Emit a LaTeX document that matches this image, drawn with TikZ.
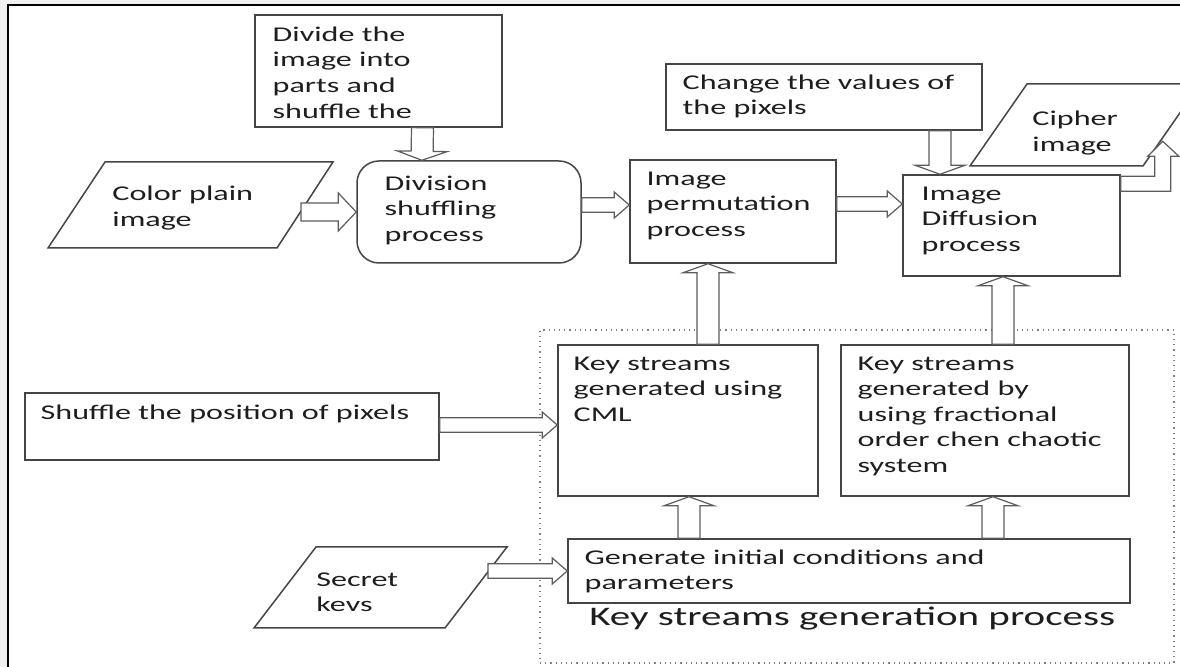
\documentclass[tikz,border=0pt]{standalone}
\usepackage{fontspec}
\setmainfont{Carlito}[FakeStretch=1.53]
\usetikzlibrary{calc}
\definecolor{boxgray}{HTML}{454545}
\definecolor{arrowgray}{HTML}{5C5C5C}
\definecolor{inkgray}{HTML}{1E1E1E}

\tikzset{
  procbox/.style={draw=boxgray, line width=0.75pt, rectangle, inner sep=0pt},
  slantline/.style={draw=boxgray, line width=0.75pt, fill=white, line join=miter},
  txt/.style={anchor=north west, align=left, inner sep=0pt, text=inkgray,
    font=\fontsize{10.5pt}{12.8pt}\selectfont},
  bigtxt/.style={align=left, inner sep=0pt, text=inkgray,
    font=\fontsize{13.4pt}{16pt}\selectfont},
  blkarrow/.style={draw=arrowgray, fill=white, line width=0.6pt, line join=miter,
    to path={
      ($(\tikztostart)!\shaftw!90:(\tikztotarget)$)
      -- ($($(\tikztotarget)!\headl!(\tikztostart)$)!\shaftw!90:(\tikztotarget)$)
      -- ($($(\tikztotarget)!\headl!(\tikztostart)$)!\headw!90:(\tikztotarget)$)
      -- (\tikztotarget)
      -- ($($(\tikztotarget)!\headl!(\tikztostart)$)!\headw!-90:(\tikztotarget)$)
      -- ($($(\tikztotarget)!\headl!(\tikztostart)$)!\shaftw!-90:(\tikztotarget)$)
      -- ($(\tikztostart)!\shaftw!-90:(\tikztotarget)$)
      -- cycle}},
  harrow/.style={blkarrow, /utils/exec={\def\shaftw{3.6pt}\def\headw{6.5pt}\def\headl{7.5pt}}},
  bigharrow/.style={blkarrow, /utils/exec={\def\shaftw{4.5pt}\def\headw{9.5pt}\def\headl{9pt}}},
  varrow/.style={blkarrow, /utils/exec={\def\shaftw{5.5pt}\def\headw{12.5pt}\def\headl{4.5pt}}}
}

\begin{document}
\begin{tikzpicture}[x=0.5pt, y=-0.5pt]
  \useasboundingbox (0,0) rectangle (1180,667);
  \clip (0,0) rectangle (1180,667);
  \fill[gray!12] (0,0) rectangle (1180,667);
  \draw[line width=1.4pt, fill=white] (8,5) rectangle (1200,690);

  % top row
  \node[procbox, minimum width=123.5pt, minimum height=56pt,
    label={[txt, xshift=9pt, yshift=-6pt]north west:{Divide the\\image into\\parts and\\shuffle the}}]
    (divide) at (378.5,71) {};
  \draw[slantline] (48,248) -- (105,162) -- (333,162) -- (277,248) -- cycle;
  \node[txt] (plain) at (112,186) {Color plain\\image};
  \coordinate (plain-out) at (301,212);
  \node[procbox, rounded corners=11pt, minimum width=112pt, minimum height=51pt,
    label={[txt, xshift=14pt, yshift=-7.5pt]north west:{Division\\shuffling\\process}}]
    (division) at (469,212) {};
  \node[procbox, minimum width=103pt, minimum height=51.5pt,
    label={[txt, xshift=8.5pt, yshift=-6pt]north west:{Image\\permutation\\process}}]
    (perm) at (733,211.5) {};
  \node[procbox, minimum width=158pt, minimum height=33pt,
    label={[txt, xshift=8.5pt, yshift=-5.5pt]north west:{Change the values of\\the pixels}}]
    (change) at (824,97) {};
  \node[procbox, minimum width=108.5pt, minimum height=50.5pt,
    label={[txt, xshift=9.5pt, yshift=-6pt]north west:{Image\\Diffusion\\process}}]
    (diffusion) at (1011.5,225.5) {};
  \draw[slantline] (970,166) -- (1027,84) -- (1200,84) -- (1143,166) -- cycle;
  \node[txt] (cipher) at (1032,111) {Cipher\\image};

  % key streams generation
  \node[draw=gray, dotted, line width=0.6pt, minimum width=317pt, minimum height=166.5pt]
    (keygen) at (857,496.5) {};
  \node[procbox, minimum width=130pt, minimum height=75.5pt,
    label={[txt, xshift=8pt, yshift=-6pt]north west:{Key streams\\generated using\\CML}}]
    (cml) at (688,420.5) {};
  \node[procbox, minimum width=144pt, minimum height=75.5pt,
    label={[txt, xshift=8.5pt, yshift=-6pt]north west:{Key streams\\generated by\\using fractional\\order chen chaotic\\system}}]
    (chen) at (985,420.5) {};
  \node[procbox, minimum width=281pt, minimum height=32pt,
    label={[txt, xshift=8.5pt, yshift=-5.5pt]north west:{Generate initial conditions and\\parameters}}]
    (generate) at (849,571) {};
  \node[bigtxt, anchor=west] (keygen-lbl) at (589,619) {Key streams generation process};

  % left inputs
  \node[procbox, minimum width=207pt, minimum height=33.5pt,
    label={[txt, xshift=8pt, yshift=-6pt]north west:{Shuffle the position of pixels}}]
    (shuffle) at (232,426.5) {};
  \draw[slantline] (254,628) -- (316,547) -- (507,547) -- (445,628) -- cycle;
  \node[txt] (secret) at (316,572) {Secret\\kevs};
  \coordinate (secret-out) at (488,571);

  % block arrows
  \draw[bigharrow] (plain-out) to (division.west);
  \draw[harrow] ($(division.east)+(0,-7)$) to ($(perm.west)+(0,-6.5)$);
  \draw[harrow] ($(perm.east)+(0,-7.5)$) to ($(diffusion.west)+(0,-21.5)$);
  \draw[varrow] ($(divide.south)+(44,0)$) to ($(division.north)+(-47,0)$);
  \draw[varrow] ($(change.south)+(116,0)$) to ($(diffusion.north)+(-71.5,0)$);
  \draw[varrow] ($(cml.north)+(20,0)$) to ($(perm.south)+(-25,0)$);
  \draw[varrow] ($(chen.north)+(18,0)$) to ($(diffusion.south)+(-8.5,0)$);
  \draw[varrow] ($(generate.north)+(-160,0)$) to ($(cml.south)+(1,0)$);
  \draw[varrow] ($(generate.north)+(144,0)$) to ($(chen.south)+(8,0)$);
  \draw[harrow] ($(shuffle.east)+(0,-1.5)$) to ($(cml.west)+(0,4.5)$);
  \draw[harrow] (secret-out) to (generate.west);
  \draw[draw=arrowgray, fill=white, line width=0.6pt] ($(diffusion.north east)+(0,2)$)
    -- ++(34,0) -- ++(0,-20) -- ++(-7,0) -- ++(15,-15) -- ++(16,15) -- ++(-8,0)
    -- ++(0,35) -- ++(-50,0) -- cycle;
\end{tikzpicture}
\end{document}
